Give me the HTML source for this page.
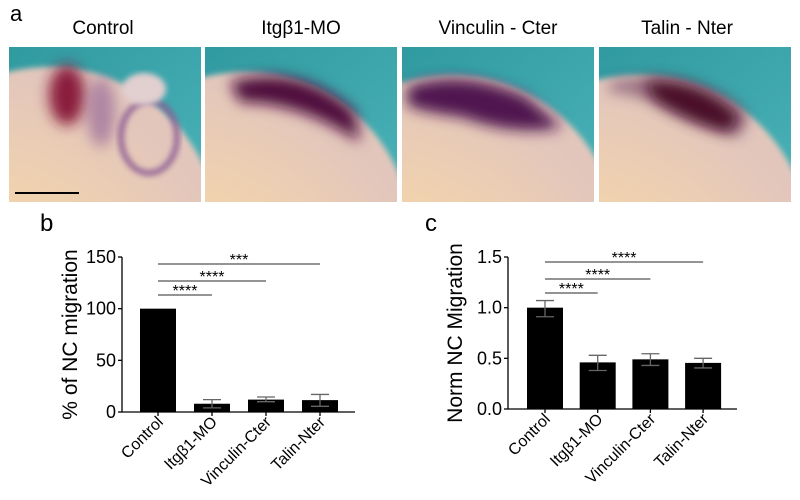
<!DOCTYPE html>
<html><head><meta charset="utf-8">
<style>
body{margin:0;background:#fff;width:800px;height:500px;overflow:hidden;position:relative;font-family:"Liberation Sans",Arial,sans-serif}
.t{position:absolute;font-size:19px;color:#000;transform:translateX(-50%);white-space:nowrap}
.ph{position:absolute;top:47px;width:192px;height:155px}
</style></head><body>
<div style="position:absolute;left:10px;top:1px;font-size:22px">a</div>
<div class="t" style="left:103px;top:18px">Control</div>
<div class="t" style="left:301px;top:18px">Itgβ1-MO</div>
<div class="t" style="left:498px;top:18px">Vinculin - Cter</div>
<div class="t" style="left:687px;top:18px">Talin - Nter</div>

<svg width="0" height="0" style="position:absolute"><defs>
<filter id="b6" x="-50%" y="-50%" width="200%" height="200%"><feGaussianBlur stdDeviation="7"/></filter>
<filter id="b3"><feGaussianBlur stdDeviation="3"/></filter>
<linearGradient id="bg" x1="0" y1="0" x2="1" y2="1"><stop offset="0" stop-color="#2f9aa0"/><stop offset="1" stop-color="#4ab2b8"/></linearGradient>
<radialGradient id="emb" cx="0.25" cy="0.85" r="0.85"><stop offset="0" stop-color="#f6dca8"/><stop offset="0.6" stop-color="#f0d2ae"/><stop offset="1" stop-color="#e2c6bc"/></radialGradient>
</defs></svg>

<svg class="ph" style="left:9px" viewBox="0 0 192 155">
<rect width="192" height="155" fill="url(#bg)"/>
<ellipse cx="40" cy="195" rx="172" ry="175" fill="url(#emb)" filter="url(#b3)"/>
<ellipse cx="58" cy="48" rx="18" ry="30" fill="#8a1c3c" filter="url(#b6)"/>
<ellipse cx="92" cy="65" rx="14" ry="35" fill="#9a6a98" filter="url(#b6)" opacity="0.7"/>
<ellipse cx="140" cy="90" rx="28" ry="36" fill="none" stroke="#8a5a92" stroke-width="6" filter="url(#b3)" opacity="0.85"/>
<ellipse cx="135" cy="42" rx="22" ry="16" fill="#e2cfd0" filter="url(#b3)"/>
</svg>
<svg class="ph" style="left:205px" viewBox="0 0 192 155">
<rect width="192" height="155" fill="url(#bg)"/>
<ellipse cx="40" cy="195" rx="168" ry="170" fill="url(#emb)" filter="url(#b3)"/>
<path d="M25 35 Q95 15 150 65 L155 95 Q95 55 35 55 Z" fill="#4f0f3c" filter="url(#b6)"/>
</svg>
<svg class="ph" style="left:402px" viewBox="0 0 192 155">
<rect width="192" height="155" fill="url(#bg)"/>
<ellipse cx="50" cy="200" rx="168" ry="172" fill="url(#emb)" filter="url(#b3)"/>
<path d="M5 40 Q60 20 125 50 L160 80 Q115 90 60 70 Q20 65 5 58 Z" fill="#4f1550" filter="url(#b6)"/>
</svg>
<svg class="ph" style="left:599px" viewBox="0 0 192 155">
<rect width="192" height="155" fill="url(#bg)"/>
<ellipse cx="40" cy="200" rx="172" ry="172" fill="url(#emb)" filter="url(#b3)"/>
<path d="M10 35 Q60 25 90 35 Q130 45 150 70 L140 90 Q95 80 55 55 Q25 45 10 45 Z" fill="#6a3a60" filter="url(#b6)" opacity="0.6"/>
<path d="M45 35 Q100 30 140 70 L130 85 Q90 75 55 52 Z" fill="#4a0a25" filter="url(#b6)"/>
</svg>
<div style="position:absolute;left:15px;top:192px;width:64px;height:2px;background:#000"></div>

<div style="position:absolute;left:40px;top:210px;font-size:24px">b</div>
<div style="position:absolute;left:425px;top:210px;font-size:24px">c</div>
<svg id="chart" width="800" height="500" style="position:absolute;left:0;top:0"></svg>
<script>
const cats=["Control","Itgβ1-MO","Vinculin-Cter","Talin-Nter"];
const bVals=[100,8,12,11.5];
const bLo=[100,4,10,5.5];
const bHi=[100,12,14.5,17];
const bTicks=[0,50,100,150];
const bTickLabels=["0","50","100","150"];
const bSig=["****","****","***"];
const cVals=[1.0,0.46,0.49,0.455];
const cLo=[0.91,0.38,0.43,0.405];
const cHi=[1.07,0.53,0.545,0.50];
const cTicks=[0,0.5,1.0,1.5];
const cTickLabels=["0.0","0.5","1.0","1.5"];
const cSig=["****","****","****"];
const NS="http://www.w3.org/2000/svg";
const svg=document.getElementById('chart');
function mk(t,a,txt){const e=document.createElementNS(NS,t);for(const k in a)e.setAttribute(k,a[k]);if(txt!=null)e.textContent=txt;svg.appendChild(e);return e;}
function draw(o){
  const y=v=>o.y0-(v-o.min)/(o.max-o.min)*(o.y0-o.y1);
  const x=i=>o.first+i*o.step;
  let e=mk('line',{x1:o.ax,y1:o.y1,x2:o.ax,y2:o.y0,stroke:'#000','stroke-width':1.3});
  
  e=mk('line',{x1:o.ax,y1:o.y0,x2:o.xend,y2:o.y0,stroke:'#000','stroke-width':1.3});
  
  o.ticks.forEach((t,i)=>{
    mk('line',{x1:o.ax-4,y1:y(t),x2:o.ax,y2:y(t),stroke:'#000','stroke-width':1.3});
    e=mk('text',{x:o.ax-6,y:y(t)+6,'text-anchor':'end','font-size':18},o.tl[i]);
    
  });
  o.vals.forEach((v,i)=>{
    e=mk('rect',{x:x(i)-18,y:y(v),width:36,height:o.y0-y(v),fill:'#000'});
    
    if(o.hi[i]!==o.lo[i]){
      mk('line',{x1:x(i),y1:y(o.lo[i]),x2:x(i),y2:y(o.hi[i]),stroke:'#666','stroke-width':1.3});
      mk('line',{x1:x(i)-9,y1:y(o.hi[i]),x2:x(i)+9,y2:y(o.hi[i]),stroke:'#666','stroke-width':1.3});
      mk('line',{x1:x(i)-9,y1:y(o.lo[i]),x2:x(i)+9,y2:y(o.lo[i]),stroke:'#666','stroke-width':1.3});
    }
    mk('line',{x1:x(i),y1:o.y0,x2:x(i),y2:o.y0+4,stroke:'#000','stroke-width':1.3});
    e=mk('text',{x:x(i)+6,y:o.y0+11,'text-anchor':'end','font-size':16,transform:`rotate(-45 ${x(i)+6} ${o.y0+11})`},cats[i]);
    
  });
  o.sig.forEach((s,k)=>{
    const ly=o.sigY[k];const x2=x(k+1);
    e=mk('line',{x1:x(0),y1:ly,x2:x2,y2:ly,stroke:'#555','stroke-width':1.3});
    
    e=mk('text',{x:(x(0)+x2)/2,y:ly+1,'text-anchor':'middle','font-size':16},s);
    
  });
  e=mk('text',{x:0,y:0,'text-anchor':'middle','font-size':21,transform:`translate(${o.tx} ${(o.y0+o.y1)/2}) rotate(-90)`},o.title);
  
}
draw({p:'b',ax:122,xend:355,y0:412,y1:257,min:0,max:150,first:158,step:54,vals:bVals,lo:bLo,hi:bHi,ticks:bTicks,tl:bTickLabels,sig:bSig,sigY:[295,281,264],tx:77,title:'% of NC migration'});
draw({p:'c',ax:508,xend:737,y0:409,y1:257,min:0,max:1.5,first:545,step:52.7,vals:cVals,lo:cLo,hi:cHi,ticks:cTicks,tl:cTickLabels,sig:cSig,sigY:[293,279,262],tx:462,title:'Norm NC Migration'});
</script>
</body></html>
